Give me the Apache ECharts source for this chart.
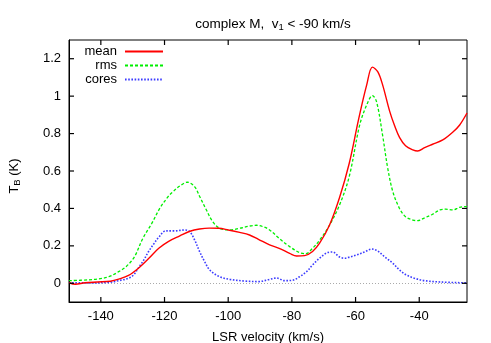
<!DOCTYPE html>
<html>
<head>
<meta charset="utf-8">
<script src="https://cdn.jsdelivr.net/npm/echarts@6/dist/echarts.min.js"></script>
<style>
html,body{margin:0;padding:0;background:#fff;}
#chart{width:491px;height:343px;}
</style>
</head>
<body>
<div id="chart"></div>
<script>
// ---- data ----
const xTicks = [-140, -120, -100, -80, -60, -40];
const yTicks = [0, 0.2, 0.4, 0.6, 0.8, 1, 1.2];

const meanV = [-150,-148,-145,-141,-137,-134.4,-131.3,-128.1,-125,-121.8,-118.7,-115.2,-112,-109,-106,-103,-100,-96.4,-93.3,-90.5,-87,-84,-80.7,-78.5,-76,-73.5,-71.3,-68.2,-65,-62,-59,-56.5,-54.7,-53,-51.5,-49.3,-47.7,-46.2,-44.3,-42,-40.5,-38.3,-35.8,-32.6,-29.5,-27.3,-25];
const meanT = [0.003,-0.005,0.003,0.007,0.011,0.022,0.042,0.082,0.132,0.187,0.224,0.253,0.278,0.29,0.295,0.294,0.285,0.272,0.258,0.235,0.205,0.187,0.16,0.146,0.148,0.17,0.214,0.31,0.46,0.64,0.88,1.06,1.155,1.13,1.06,0.92,0.84,0.78,0.735,0.713,0.707,0.725,0.743,0.766,0.807,0.846,0.91];

const rmsV = [-150,-144,-141,-137.5,-134.4,-132,-129.5,-126.8,-124,-121.5,-119,-117.3,-115.2,-112.8,-110.5,-109,-106.8,-104.9,-102.7,-99.5,-96.4,-93.3,-91,-89,-87,-84,-80.7,-77.6,-75.7,-73.5,-71.3,-68.2,-65,-62,-58.7,-56.5,-54.7,-53.4,-51.5,-49.9,-48.3,-46.2,-44.3,-42,-40.5,-38.3,-35.8,-33.5,-31.7,-29.5,-27.3,-25];
const rmsT = [0.014,0.018,0.023,0.035,0.062,0.09,0.14,0.24,0.32,0.40,0.46,0.49,0.52,0.54,0.515,0.465,0.39,0.33,0.294,0.285,0.294,0.306,0.31,0.302,0.285,0.24,0.196,0.164,0.158,0.187,0.23,0.31,0.42,0.57,0.846,0.953,1.003,0.97,0.79,0.615,0.49,0.40,0.356,0.338,0.335,0.35,0.369,0.392,0.396,0.392,0.406,0.41];

const coresV = [-150,-144,-137.5,-134.4,-131.3,-129.7,-128.1,-126.5,-125,-123.4,-121.8,-119.6,-116.8,-113.7,-112.1,-110.5,-109,-107.4,-105.8,-102.7,-99.5,-94.8,-90.5,-87,-84.8,-82.3,-79.8,-77.6,-75.4,-73.5,-71.3,-68.8,-67.2,-65,-63.4,-61.9,-59.7,-57,-55,-53.1,-50.9,-48.3,-46.2,-44,-41.5,-38.3,-33.5,-25];
const coresT = [0.003,0.002,0.005,0.014,0.027,0.045,0.085,0.125,0.17,0.21,0.246,0.28,0.28,0.285,0.276,0.23,0.17,0.116,0.071,0.035,0.021,0.012,0.009,0.021,0.028,0.014,0.016,0.035,0.062,0.098,0.134,0.164,0.167,0.14,0.134,0.14,0.151,0.169,0.183,0.173,0.142,0.107,0.071,0.044,0.027,0.014,0.007,0.002];

const seriesNames = ['mean', 'rms', 'cores'];

// ---- chart ----
const X_MIN = -150, X_MAX = -25, Y_MIN = -0.1, Y_MAX = 1.3, TICK = 5;
const pair = (v, t) => v.map((x, i) => [x, t[i]]);
const FONT = 'Liberation Sans, Arial, Helvetica, sans-serif';
const chart = echarts.init(document.getElementById('chart'), null, {renderer: 'canvas'});

// inward tick marks on all four sides, placed through the axes' own scales
function tickSeries(values, isX) {
  return {
    type: 'custom', clip: false, z: 10,
    data: values.map(v => isX ? [v, 0] : [X_MIN, v]),
    renderItem: (params, api) => {
      const style = {stroke: '#000', lineWidth: 1.2};
      if (isX) {
        const v = api.value(0);
        const b = api.coord([v, Y_MIN]), t = api.coord([v, Y_MAX]);
        return {type: 'group', children: [
          {type: 'line', shape: {x1: b[0], y1: b[1], x2: b[0], y2: b[1] - TICK}, style},
          {type: 'line', shape: {x1: t[0], y1: t[1], x2: t[0], y2: t[1] + TICK}, style}
        ]};
      }
      const v = api.value(1);
      const l = api.coord([X_MIN, v]), r = api.coord([X_MAX, v]);
      return {type: 'group', children: [
        {type: 'line', shape: {x1: l[0], y1: l[1], x2: l[0] + TICK, y2: l[1]}, style},
        {type: 'line', shape: {x1: r[0], y1: r[1], x2: r[0] - TICK, y2: r[1]}, style}
      ]};
    }
  };
}

const legendCommon = {
  orient: 'horizontal', align: 'right', right: 327, padding: 0,
  itemWidth: 38, itemHeight: 12, itemGap: 0,
  itemStyle: {opacity: 0},
  textStyle: {color: '#000', fontSize: 13, fontFamily: FONT, padding: [0, 3, 0, 0]},
  selectedMode: false
};

const option = {
  animation: false,
  backgroundColor: '#fff',
  title: {
    text: 'complex M,  v{s|1} < -90 km/s',
    left: 268, top: 11, textAlign: 'center',
    textStyle: {color: '#000', fontSize: 13.5, fontWeight: 'normal', fontFamily: FONT,
      rich: {s: {fontSize: 9.5, fontFamily: FONT, color: '#000', padding: [6, 0, 0, 0]}}}
  },
  grid: {left: 69, right: 24, top: 40, bottom: 41, containLabel: false, outerBoundsMode: 'none',
    show: true, borderColor: '#000', borderWidth: 1, backgroundColor: 'transparent'},
  legend: [
    Object.assign({}, legendCommon, {data: [seriesNames[0]], top: 45}),
    Object.assign({}, legendCommon, {data: [seriesNames[1]], top: 59}),
    Object.assign({}, legendCommon, {data: [seriesNames[2]], top: 73})
  ],
  xAxis: {
    type: 'value', min: X_MIN, max: X_MAX,
    axisLine: {show: true, onZero: false, lineStyle: {color: '#000', width: 1}},
    splitLine: {show: false},
    axisTick: {show: false},
    axisLabel: {show: true, customValues: xTicks, color: '#000', fontSize: 13, fontFamily: FONT, margin: 8},
    name: 'LSR velocity (km/s)', nameLocation: 'middle', nameGap: 29,
    nameTextStyle: {color: '#000', fontSize: 13, fontFamily: FONT}
  },
  yAxis: {
    type: 'value', min: Y_MIN, max: Y_MAX,
    axisLine: {show: true, onZero: false, lineStyle: {color: '#000', width: 1}},
    splitLine: {show: false},
    axisTick: {show: false},
    axisLabel: {show: true, customValues: yTicks, color: '#000', fontSize: 13, fontFamily: FONT, margin: 8,
      formatter: v => String(Math.round(v * 10) / 10)}
  },
  graphic: [{
    type: 'text', x: 14, y: 176, rotation: Math.PI / 2,
    style: {
      text: '{t|T}{s|B}{t| (K)}', align: 'center', verticalAlign: 'middle',
      rich: {
        t: {fontSize: 13, fontFamily: FONT, fill: '#000', color: '#000'},
        s: {fontSize: 9.5, fontFamily: FONT, fill: '#000', color: '#000', padding: [6, 0, 0, 0]}
      }
    }
  }],
  series: [
    {
      name: seriesNames[0], type: 'line', data: pair(meanV, meanT), smooth: 0.35,
      symbol: 'none', color: '#ff0000', lineStyle: {color: '#ff0000', width: 1.4}, z: 4,
      markLine: {
        silent: true, symbol: ['none', 'none'], label: {show: false},
        lineStyle: {color: '#aaaaaa', type: [1, 2], width: 1},
        data: [{yAxis: 0}], z: 1
      }
    },
    {
      name: seriesNames[1], type: 'line', data: pair(rmsV, rmsT), smooth: 0.35,
      symbol: 'none', color: '#00ee00', lineStyle: {color: '#00ee00', width: 1.3, type: [3, 2]}, z: 3
    },
    {
      name: seriesNames[2], type: 'line', data: pair(coresV, coresT), smooth: 0.35,
      symbol: 'none', color: '#3b3bff', lineStyle: {color: '#3b3bff', width: 1.6, type: [1.6, 1.6]}, z: 2
    },
    tickSeries(xTicks, true),
    tickSeries(yTicks, false)
  ]
};
chart.setOption(option);
</script>
</body>
</html>
